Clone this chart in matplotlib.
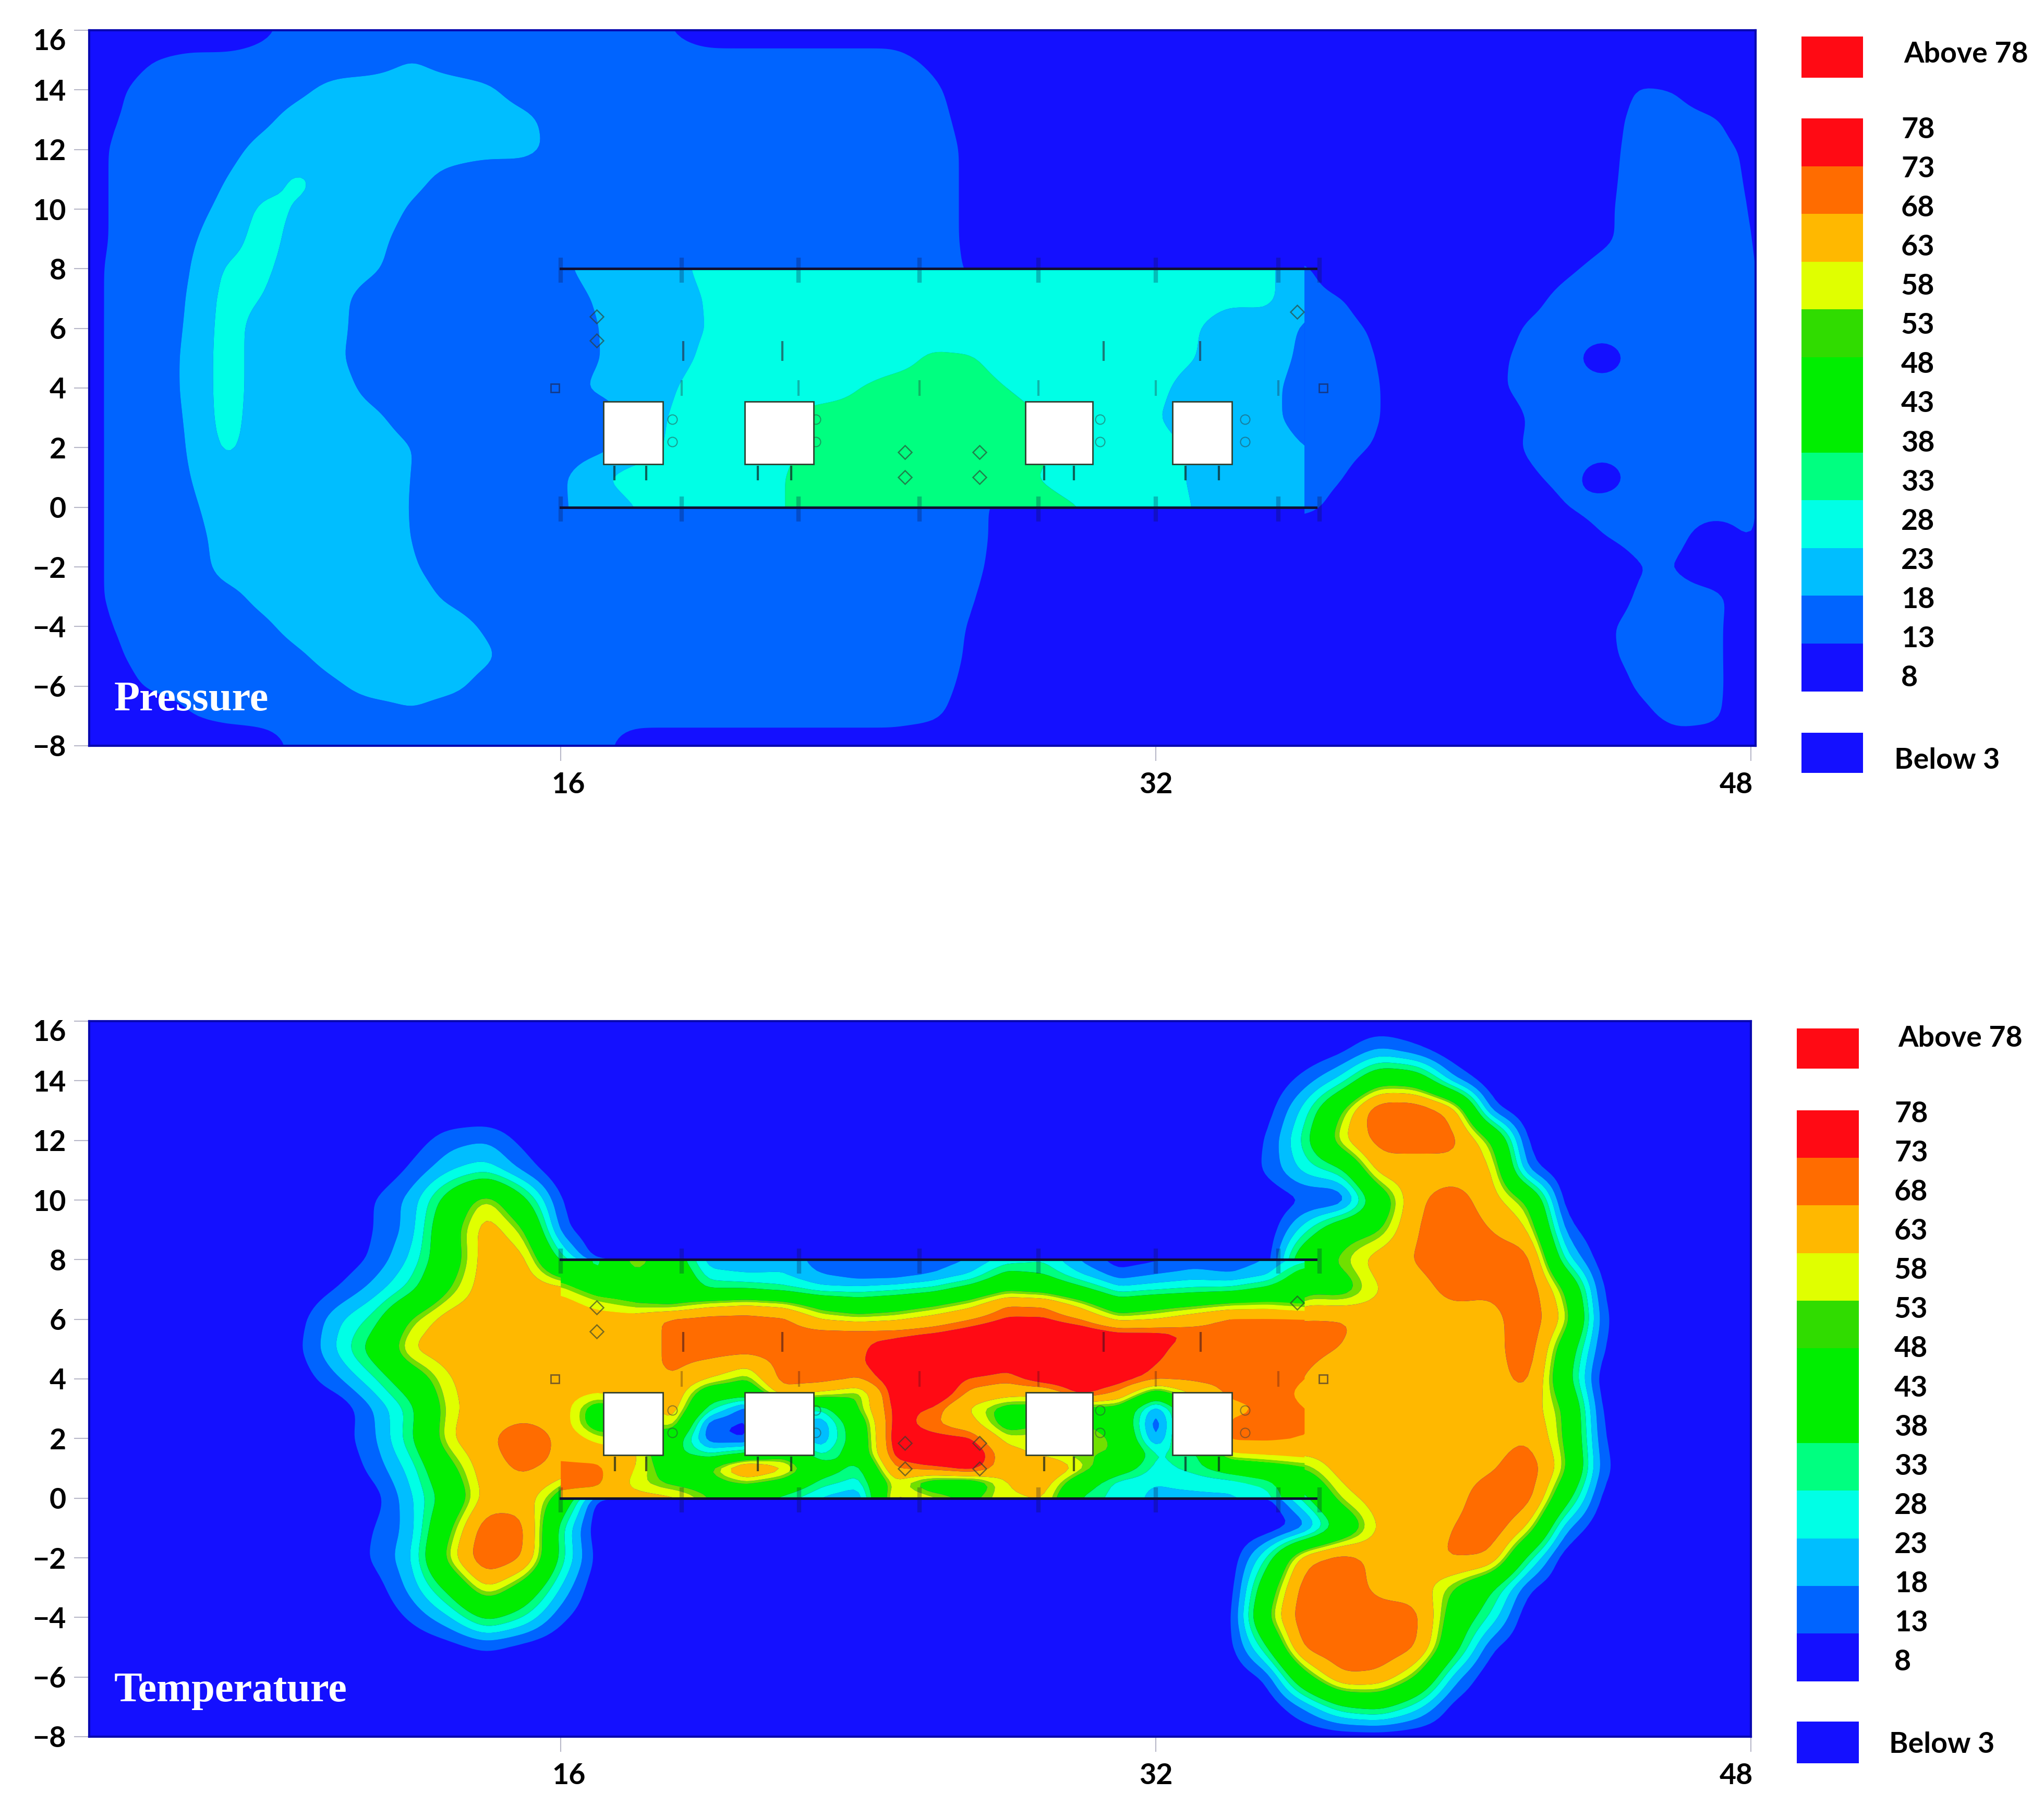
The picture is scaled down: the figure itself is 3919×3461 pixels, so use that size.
import numpy as np
import matplotlib
matplotlib.use('Agg')
import matplotlib.pyplot as plt
from matplotlib.patches import Rectangle
from matplotlib.transforms import ScaledTranslation

# contour bands (same scale on both panels)
levels = [0, 13, 18, 23, 28, 33, 50, 53, 58, 68, 73, 100]
band_colors = ['#1410FF', '#0064FF', '#00BEFF', '#00FFE6', '#00FF80', '#00EE00',
               '#70E000', '#E0FF00', '#FFB800', '#FF6C00', '#FF0A14']
legend_colors = ['#FF0A14', '#FF6C00', '#FFB800', '#E0FF00', '#30DC00', '#00EE00',
                 '#00EE00', '#00FF80', '#00FFE6', '#00BEFF', '#0064FF', '#1410FF']
legend_labels = ['78', '73', '68', '63', '58', '53', '48', '43', '38', '33', '28', '23', '18', '13', '8']
y_ticks = [16, 14, 12, 10, 8, 6, 4, 2, 0, -2, -4, -6, -8]
x_ticks = [16, 32, 48]

# Pressure, upstream part: x = 3..28, rows y = 16..-8
p_left_x = list(range(3, 29))
p_left_y = list(range(16, -9, -1))
p_left = [
    [8] * 5 + [12] + [15] * 10 + [13] + [10] * 6 + [8] * 3,
    [8, 8, 13, 15, 15, 15, 15, 15, 16, 18.3, 16] + [15] * 12 + [12, 8, 8],
    [8, 11.5, 16.5, 15, 15, 15, 17.1, 20, 20, 20, 20, 19, 16] + [15] * 10 + [14.5, 9.5, 8],
    [8, 13, 15, 15, 15, 17.1, 20.1, 20, 20, 20, 20, 20, 19.2, 16.2] + [15] * 9 + [15.5, 10.5, 8],
    [9, 14, 15, 15, 16.5, 19.5, 20, 20, 20, 20, 20, 19.5, 19.5, 16.5] + [15] * 9 + [16.5, 11.5, 8],
    [9, 14, 15, 15, 18, 21, 24.5, 20, 20, 19.5, 16.5] + [15] * 12 + [16.5, 11.5, 8],
    [9, 14, 15, 16.2, 19.2, 24.5, 22.5, 20.5, 20.4, 17.4] + [15] * 13 + [16.5, 11.5, 8],
    [9, 14, 15, 17, 21, 25, 21, 20, 19.2, 16.2] + [15] * 13 + [16.5, 11.5, 8],
    [9.5, 14.5, 15, 17.4, 24, 24, 20.5, 20, 18.6, 15.6] + [15] * 13 + [17, 12, 8],
    [9.5, 14.5, 15, 18, 25, 23, 20, 19, 16] + [15] * 17,
    [9.5, 14.5, 15.3, 18.3, 25.5, 20.5, 20, 18.9, 15.9] + [15] * 17,
    [9.5, 14.5, 15.3, 18.8, 25.5, 20.5, 20, 18.6, 15.6] + [15] * 17,
    [9.5, 14.5, 15.3, 18.8, 25.5, 20.5, 20, 19.5, 16.5] + [15] * 17,
    [9.5, 14.5, 15.3, 18.3, 25.5, 20, 20, 20, 18.9, 15.9] + [15] * 16,
    [9.5, 14.5, 15, 18, 24.5, 20, 20, 20, 20, 18.2, 15.2] + [15] * 15,
    [9.5, 14.5, 15, 17.7, 21.5, 20, 20, 20, 20, 18, 15] + [15] * 15,
    [9.5, 14.5, 15, 17.1, 20.1, 20, 20, 20, 20.7, 17.7, 15] + [15] * 13 + [15.5, 10.5],
    [9.5, 14.5, 15, 16.5, 19.5, 20, 20, 20, 20, 18, 15] + [15] * 13 + [15.5, 10.5],
    [9.5, 14.5, 15, 15.3, 20, 20, 20, 20, 20, 18.6, 15.6] + [15] * 13 + [15, 10],
    [9.5, 14.5, 15, 15, 16.5, 19.5, 20, 20, 20, 20.1, 17.1] + [15] * 13 + [14, 9],
    [8.5, 13.5, 15, 15, 15, 17.1, 20.1, 20, 20, 20, 20.4, 17.4] + [15] * 12 + [13, 8],
    [8, 12, 16, 15, 15, 15, 17.4, 20.4, 20, 20, 20, 18.9, 15.9] + [15] * 10 + [17, 12, 8],
    [8, 9.5, 14.5, 15, 15, 15, 15, 17.4, 20.4, 20, 19.5, 16.5] + [15] * 11 + [16, 11, 8],
    [8, 8, 8, 13, 15, 15, 15, 15, 15, 17.5] + [15] * 13 + [14.5, 9.5, 8],
    [8] * 5 + [10] + [15] * 9 + [10] * 8 + [8] * 3,
]

# Pressure, downstream part: x = 36..49, rows y = 16..-8
p_right_x = list(range(36, 50))
p_right_y = list(range(16, -9, -1))
p_right = [
    [8] * 14,
    [8] * 14,
    [8] * 9 + [14, 13, 8, 8, 8],
    [8] * 8 + [10, 15, 15, 14, 9, 8],
    [8] * 8 + [11, 15, 15, 15, 12, 8],
    [8] * 8 + [11.5, 15, 15, 15, 12.5, 8],
    [8] * 8 + [12, 15, 15, 15, 13, 8],
    [8] * 8 + [12, 15, 15, 15, 13.5, 8],
    [14.5, 8, 8, 8, 8, 8, 8, 12, 15, 15, 15, 15, 14, 8],
    [15, 13.5, 8.5, 8, 8, 8, 11, 15, 15, 15, 15, 15, 14, 8],
    [15, 15, 12, 8, 8, 9, 14, 15, 15, 15, 15, 15, 14, 8],
    [15, 15, 13, 8, 8, 11, 15, 15, 10, 15, 15, 15, 14, 8],
    [15, 15, 13.5, 8.5, 8, 11.5, 15, 15, 15, 15, 15, 15, 14, 8],
    [15, 15, 13.5, 8.5, 8, 8, 13.5, 15, 15, 15, 15, 15, 14, 8],
    [15, 15, 12.5, 8, 8, 9, 14, 15, 15, 15, 15, 15, 14, 8],
    [15, 13.5, 8.5, 8, 8, 8, 12, 15, 10, 15, 15, 15, 14, 8],
    [15, 11, 8, 8, 8, 8, 8, 13.2, 15, 15, 15, 15, 14, 8],
    [8, 8, 8, 8, 8, 8, 8, 8.5, 13, 15, 14.5, 10, 14, 8],
    [8, 8, 8, 8, 8, 8, 8, 8, 8, 13, 13, 8, 8, 8],
    [8, 8, 8, 8, 8, 8, 8, 8, 9, 14, 15, 15, 9, 8],
    [8, 8, 8, 8, 8, 8, 8, 8, 12, 15, 15, 14.5, 9, 8],
    [8, 8, 8, 8, 8, 8, 8, 8, 11.5, 15, 15, 14.5, 9, 8],
    [8, 8, 8, 8, 8, 8, 8, 8, 9, 14, 15, 15, 8, 8],
    [8, 8, 8, 8, 8, 8, 8, 8, 8, 11.5, 15, 14.5, 8, 8],
    [8, 8, 8, 8, 8, 8, 8, 8, 8, 8, 10, 9, 8, 8],
]

# Pressure inside the duct: x = 16..36, rows y = 8..0
p_duct_x = list(range(16, 37))
p_duct_y = list(range(8, -1, -1))
p_duct = [
    [17, 20, 20, 21.5, 24.5] + [25] * 14 + [24.2, 19],
    [15.6, 18.6, 20, 20.6, 23.6] + [25] * 13 + [24, 24.2, 19],
    [15, 17.9, 20.9, 21, 23.3] + [25] * 12 + [23.6, 20.6, 20.4, 17.4],
    [15, 17.9, 20, 21.2, 24.2, 25, 25, 25, 25, 26, 29, 28.5, 26, 25, 25, 25, 25, 23.3, 20.3, 20, 17],
    [15.9, 18.9, 20, 22.6, 25.6, 25, 25, 25, 28, 30, 30, 30, 28, 26, 25, 25, 24.2, 21.2, 20, 19.2, 16.2],
    [14, 15, 20, 23.5, 25, 25, 27.7, 30.7, 30, 30, 30, 30, 30, 28, 25.5, 25, 23.5, 20, 20, 19, 16.5],
    [15, 16.5, 20, 24, 25, 25, 27, 30, 30, 30, 30, 30, 30, 29, 25, 25, 25, 22.5, 20, 20, 18],
    [17, 22.3, 25.3, 25, 25, 25, 28, 30, 30, 30, 30, 30, 30, 27.5, 25, 25, 25, 22.5, 20, 20, 18.5],
    [17.4, 20, 23, 25, 25, 25, 28, 30, 30, 30, 30, 30, 30, 30, 28, 25, 25, 23, 20, 20, 18],
]

# Temperature, left lobe: x = 8..18, rows y = 13..-6
t_left_x = list(range(8, 19))
t_left_y = list(range(13, -7, -1))
t_left = [
    [8] * 11,
    [8, 8, 8, 8, 10, 16, 18, 11, 8, 8, 8],
    [8, 8, 8, 8, 14, 22, 26, 16, 8, 8, 8],
    [8, 8, 8, 13, 20, 38, 57, 36, 12, 8, 8],
    [8, 8, 8, 13, 20, 45, 63, 52, 14, 8, 8],
    [8, 8, 9, 14, 24, 43, 63, 62, 30, 8, 8],
    [8, 8, 13, 20, 30, 50, 63, 63, 63, 63, 63],
    [8, 11, 22, 30, 52, 63, 63, 63, 63, 63, 63],
    [8, 12, 24, 38, 60, 63, 63, 63, 63, 63, 63],
    [8, 10, 17, 27, 42, 58, 63, 63, 63, 63, 63],
    [8, 8, 8, 18, 30, 56, 63, 63, 63, 63, 63],
    [8, 8, 10, 17, 32, 58, 66, 75, 66, 63, 63],
    [8, 8, 8, 15, 25, 46, 64, 70, 66, 64, 64],
    [8, 8, 8, 10, 22, 38, 62, 63, 45, 8, 8],
    [8, 8, 8, 13, 20, 48, 75, 72, 28, 8, 8],
    [8, 8, 8, 14, 22, 55, 78, 70, 30, 10, 8],
    [8, 8, 8, 10, 20, 36, 60, 44, 22, 8, 8],
    [8, 8, 8, 8, 14, 22, 36, 28, 14, 8, 8],
    [8, 8, 8, 8, 8, 10, 13.5, 10, 8, 8, 8],
    [8] * 11,
]

# Temperature, right lobe: x = 34..45, rows y = 16..-8
t_right_x = list(range(34, 46))
t_right_y = list(range(16, -9, -1))
t_right = [
    [8] * 12,
    [8, 8, 8, 11, 19, 14, 8, 8, 8, 8, 8, 8],
    [8, 8, 15, 25, 45, 43, 18, 8, 8, 8, 8, 8],
    [8, 10, 25, 50, 78, 78, 66, 14, 8, 8, 8, 8],
    [8, 13, 30, 58, 72, 72, 72, 52, 10, 8, 8, 8],
    [8, 14, 25, 30, 63, 63, 63, 62, 15, 8, 8, 8],
    [8, 8, 12, 10, 40, 66, 74, 62, 50, 8, 8, 8],
    [8, 8, 26, 45, 48, 68, 76, 68, 60, 15, 8, 8],
    [8, 8, 45, 52, 63, 69, 76, 74, 74, 25, 9, 8],
    [8, 8, 46, 43, 58, 63, 72, 70, 76, 50, 11, 8],
    [70, 70, 70, 70, 63, 63, 63, 63, 76, 57, 13, 8],
    [70, 70, 70, 68, 63, 63, 63, 63, 76, 42, 12, 8],
    [70, 70, 68, 63, 63, 63, 63, 63, 72, 38, 8, 8],
    [68, 68, 68, 63, 63, 63, 63, 63, 63, 50, 10, 8],
    [68, 68, 68, 63, 63, 63, 63, 63, 68, 50, 12, 8],
    [50, 50, 50, 63, 63, 63, 63, 66, 76, 53, 14, 8],
    [8, 8, 30, 55, 63, 63, 63, 76, 74, 38, 10, 8],
    [8, 8, 12, 36, 60, 63, 68, 76, 58, 18, 8, 8],
    [8, 28, 66, 74, 64, 63, 70, 68, 30, 8, 8, 8],
    [8, 42, 74, 76, 64, 63, 50, 35, 13, 8, 8, 8],
    [9, 50, 76, 76, 74, 72, 43, 27, 8, 8, 8, 8],
    [10, 32, 72, 76, 76, 70, 38, 13, 8, 8, 8, 8],
    [8, 13, 45, 68, 66, 50, 20, 8, 8, 8, 8, 8],
    [8, 8, 18, 32, 36, 25, 10, 8, 8, 8, 8, 8],
    [8] * 12,
]

# Temperature inside the duct: x = 16..36, rows y = 8..0 in half steps
t_duct_x = list(range(16, 37))
t_duct_y = [8, 7.5, 7, 6.5, 6, 5.5, 5, 4.5, 4, 3.5, 3, 2.5, 2, 1.5, 1, 0.5, 0]
t_duct = [
    [45, 30, 55, 40, 20, 20, 22, 15, 15, 15, 15, 18, 25, 27, 17, 10, 12, 15, 15, 18, 25],
    [45, 33, 48, 45, 25, 23, 23, 18, 15, 15, 18, 23, 36, 33, 23, 15, 18, 20, 18, 22, 40],
    [55, 45, 45, 45, 33, 33, 30, 25, 25, 27, 30, 38, 48, 45, 36, 25, 27, 29, 30, 36, 46],
    [63, 55, 50, 48, 55, 58, 55, 45, 40, 43, 48, 55, 68, 67, 55, 40, 45, 48, 52, 53, 48],
    [63, 63, 63, 70, 72, 72, 70, 58, 55, 57, 62, 68, 74, 74, 68, 56, 58, 64, 70, 70, 70],
    [63, 63, 63, 70, 72, 72, 72, 72, 72, 72, 74, 78, 82, 82, 80, 76, 76, 72, 70, 70, 70],
    [63, 63, 63, 70, 72, 72, 72, 72, 72, 76, 82, 82, 82, 82, 82, 80, 74.5, 70, 70, 70, 70],
    [63, 63, 63, 70, 66, 60, 72, 72, 72, 78, 82, 82, 76, 82, 82, 80, 73, 70, 70, 70, 68],
    [63, 63, 63, 67, 58, 50, 72, 72, 68, 78, 82, 72, 70, 78, 80, 77, 70, 70, 70, 70, 68],
    [62, 58, 65, 66, 40, 38, 63, 56, 50, 78, 82, 66, 62, 60, 76, 66, 42, 60, 70, 70, 67],
    [63, 43, 50, 63, 30, 14, 30, 28, 50, 76, 72, 57, 45, 45, 45, 45, 18, 45, 65, 70, 68],
    [63, 43, 50, 56, 14, 12, 30, 18, 42, 77, 69, 62, 45, 50, 50, 45, 13, 45, 70, 70, 68],
    [65, 55, 50, 40, 14, 12, 30, 18, 40, 78, 76, 74, 55, 55, 55, 48, 16, 45, 70, 70, 68],
    [66, 64, 60, 36, 27, 33, 45, 26, 40, 76, 82, 82, 62, 55, 50, 50, 28, 30, 58, 60, 62],
    [70, 70, 58, 43, 50, 72, 60, 40, 30, 68, 72, 78, 62, 70, 55, 40, 26, 30, 38, 43, 48],
    [70, 70, 55, 48, 45, 50, 45, 30, 25, 56, 42, 40, 58, 62, 40, 25, 23, 24, 25, 30, 47],
    [66, 62, 62, 60, 50, 38, 30, 22, 18, 60, 55, 48, 57, 58, 32, 25, 22, 22, 22, 25, 45],
]

# obstacles in the duct (same on both panels)
block_x0 = [17.15, 20.95, 28.5, 32.45]
block_x1 = [18.75, 22.8, 30.3, 34.05]
block_y0 = 1.45
block_y1 = 3.55

# small symbols drawn over the field
wall_x = [16, 36.3]
stud_x = [16, 19.25, 22.4, 25.65, 28.85, 32, 35.3, 36.4]
stud_mid_x = [19.3, 21.96, 30.6, 33.2]
stud_low_x = [19.25, 22.4, 25.65, 28.85, 32, 35.3]
pin_x = [17.45, 18.3, 21.3, 22.2, 29, 29.8, 32.8, 33.7]
box_x = [15.85, 36.5]
diamond_x = [16.96, 16.96, 35.8, 25.25, 25.25, 27.26, 27.26]
diamond_y = [6.4, 5.6, 6.55, 1.85, 1.0, 1.85, 1.0]
circle_x = [19, 19, 22.85, 22.85, 30.5, 30.5, 34.4, 34.4]
circle_y = [2.95, 2.2, 2.95, 2.2, 2.95, 2.2, 2.95, 2.2]

W, H = 3919, 3461
plt.rcParams['font.family'] = ['Lato', 'DejaVu Sans']
plt.rcParams['font.weight'] = 'bold'


# resample a value grid finer and soften it a little so the contours come out round
def fine_grid(xs, ys, values, sigma, k=8):
    xs = np.asarray(xs, dtype=float)
    ys = np.asarray(ys, dtype=float)[::-1]
    z = np.asarray(values, dtype=float)[::-1]
    xf = np.linspace(xs[0], xs[-1], (len(xs) - 1) * k + 1)
    yf = np.linspace(ys[0], ys[-1], int(round((ys[-1] - ys[0]) * k)) + 1)
    z = np.array([np.interp(xf, xs, row) for row in z])
    z = np.array([np.interp(yf, ys, col) for col in z.T]).T
    half = int(3 * sigma * k)
    t = np.arange(-half, half + 1) / (sigma * k)
    kernel = np.exp(-0.5 * t ** 2)
    kernel /= kernel.sum()
    z = np.pad(z, half, mode='edge')
    z = np.apply_along_axis(lambda r: np.convolve(r, kernel, mode='same'), 1, z)
    z = np.apply_along_axis(lambda c: np.convolve(c, kernel, mode='same'), 0, z)
    return xf, yf, z[half:-half, half:-half]


def draw_field(ax, xs, ys, values, sigma, cap=None):
    xf, yf, zf = fine_grid(xs, ys, values, sigma)
    if cap is not None:
        zf = np.minimum(zf, cap)  # lobes stay orange at most, only the duct goes red
    ax.contourf(xf, yf, zf, levels=levels, colors=band_colors, antialiased=True)


def draw_panel(box, fields, title, title_size, xmax):
    left, top, right, bottom = box
    ax = fig.add_axes([left / W, 1 - bottom / H, (right - left) / W, (bottom - top) / H])
    ax.set_facecolor(band_colors[0])
    for xs, ys, values, sigma, cap in fields:
        draw_field(ax, xs, ys, values, sigma, cap)

    # duct walls and hardware
    for wy in (0, 8):
        ax.plot(wall_x, [wy, wy], color='#101030', lw=3.5, zorder=4)
    ax.plot(stud_x, [7.95] * len(stud_x), ls='none', marker='|', ms=34, mew=6, color='#101040', alpha=0.28, zorder=4)
    ax.plot(stud_x, [-0.05] * len(stud_x), ls='none', marker='|', ms=34, mew=6, color='#101040', alpha=0.28, zorder=4)
    ax.plot(stud_mid_x, [5.25] * 4, ls='none', marker='|', ms=28, mew=3, color='#301020', alpha=0.55, zorder=4)
    ax.plot(stud_low_x, [4] * 6, ls='none', marker='|', ms=22, mew=3, color='#301020', alpha=0.3, zorder=4)
    ax.plot(box_x, [4, 4], ls='none', marker='s', ms=12, mfc='none', mec='#202040', mew=2, alpha=0.6, zorder=4)
    ax.plot(pin_x, [1.15] * 8, ls='none', marker='|', ms=20, mew=3, color='#102020', alpha=0.7, zorder=6)
    ax.plot(diamond_x, diamond_y, ls='none', marker='D', ms=13, mfc='none', mec='#304030', mew=1.8, alpha=0.65, zorder=4)
    ax.plot(circle_x, circle_y, ls='none', marker='o', ms=13, mfc='none', mec='#304040', mew=1.5, alpha=0.5, zorder=4)
    for x0, x1 in zip(block_x0, block_x1):
        ax.add_patch(Rectangle((x0, block_y0), x1 - x0, block_y1 - block_y0, fc='white', ec='#304030', lw=2, zorder=5))

    ax.set_xlim(3.32, xmax)
    ax.set_ylim(-8, 16)
    ax.set_yticks(y_ticks)
    ax.set_xticks(x_ticks)
    ax.tick_params(axis='both', length=21, width=1.5, color='#B8B8C8', labelsize=40, pad=11)
    ax.tick_params(axis='x', pad=15)
    # the reference labels are nudged off their ticks
    for lab, dx in zip(ax.get_xticklabels(), [15, 0, -28]):
        lab.set_transform(lab.get_transform() + ScaledTranslation(dx / 100, 0, fig.dpi_scale_trans))
    top_label = ax.get_yticklabels()[0]
    top_label.set_transform(top_label.get_transform() + ScaledTranslation(0, -18 / 100, fig.dpi_scale_trans))
    for sp in ax.spines.values():
        sp.set_color('#0808B0')
        sp.set_linewidth(3)
    ax.text(0.0150, 0.0635, title, transform=ax.transAxes, color='white', fontsize=title_size,
            family=['Liberation Serif'], fontweight='bold', va='center', ha='left', zorder=7)
    return ax


# legend is placed in figure pixels on a bare overlay axes
def draw_legend(ax, bx0, bx1, above, bar, below, above_text, num_text, below_text):
    ax.add_patch(Rectangle((bx0, above[0]), bx1 - bx0, above[1] - above[0], fc=legend_colors[0], ec='none'))
    step = (bar[1] - bar[0]) / len(legend_colors)
    for i, c in enumerate(legend_colors):
        ax.add_patch(Rectangle((bx0, bar[0] + i * step), bx1 - bx0, step + 1, fc=c, ec='none'))
    ax.add_patch(Rectangle((bx0, below[0]), bx1 - bx0, below[1] - below[0], fc=legend_colors[-1], ec='none'))
    ax.text(above_text[0], above_text[1], 'Above 78', fontsize=40, va='center', ha='left')
    ax.text(below_text[0], below_text[1], 'Below 3', fontsize=40, va='center', ha='left')
    ys = np.linspace(num_text[1], num_text[2], len(legend_labels))
    for lab, y in zip(legend_labels, ys):
        ax.text(num_text[0], y, lab, fontsize=40, va='center', ha='left')


fig = plt.figure(figsize=(W / 100, H / 100), dpi=100, facecolor='white')
overlay = fig.add_axes([0, 0, 1, 1])
overlay.set_xlim(0, W)
overlay.set_ylim(H, 0)
overlay.axis('off')

draw_panel((171, 58, 3366, 1430),
           [(p_left_x, p_left_y, p_left, 0.28, None), (p_right_x, p_right_y, p_right, 0.25, None),
            (p_duct_x, p_duct_y, p_duct, 0.2, None)],
           'Pressure', 58, 48.13)
draw_panel((171, 1958, 3357, 3330),
           [(t_left_x, t_left_y, t_left, 0.25, 72), (t_right_x, t_right_y, t_right, 0.25, 72),
            (t_duct_x, t_duct_y, t_duct, 0.14, None)],
           'Temperature', 58, 48.0)

draw_legend(overlay, 3454, 3572, (70, 149), (227, 1325), (1405, 1482),
            (3650, 104), (3645, 249, 1300), (3632, 1458))
draw_legend(overlay, 3445, 3564, (1972, 2049), (2129, 3223), (3301, 3381),
            (3639, 1991), (3632, 2136, 3187), (3622, 3345))

fig.savefig('out.png', dpi=100)
